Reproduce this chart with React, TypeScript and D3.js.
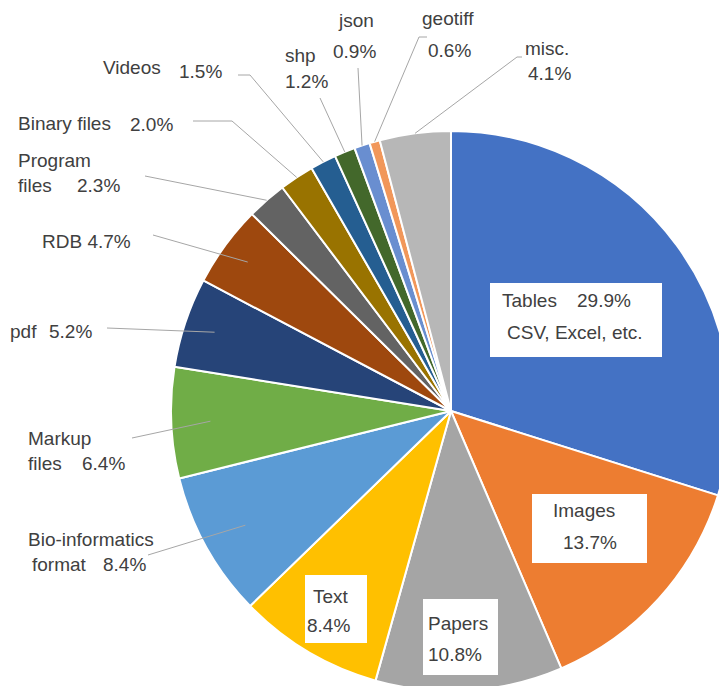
import React from "react";
import * as d3 from "d3";

// ---- data ----
const categories = [
  "Tables", "Images", "Papers", "Text", "Bio-informatics format", "Markup files",
  "pdf", "RDB", "Program files", "Binary files", "Videos", "shp", "json", "geotiff", "misc.",
];
const shares = [29.9, 13.7, 10.8, 8.4, 8.4, 6.4, 5.2, 4.7, 2.3, 2.0, 1.5, 1.2, 0.9, 0.6, 4.1];
const sliceColors = [
  "#4472C4", "#ED7D31", "#A5A5A5", "#FFC000", "#5B9BD5", "#70AD47",
  "#264478", "#9E480E", "#636363", "#997300", "#255E91", "#43682B", "#698ED0", "#F1975A", "#B7B7B7",
];
// text pieces of each label ("{v}" = the share)
const labelTexts: string[][] = [
  ["Tables", "{v}", "CSV, Excel, etc."],
  ["Images", "{v}"],
  ["Papers", "{v}"],
  ["Text", "{v}"],
  ["Bio-informatics", "format", "{v}"],
  ["Markup", "files", "{v}"],
  ["pdf", "{v}"],
  ["RDB {v}"],
  ["Program", "files", "{v}"],
  ["Binary files", "{v}"],
  ["Videos", "{v}"],
  ["shp", "{v}"],
  ["json", "{v}"],
  ["geotiff", "{v}"],
  ["misc.", "{v}"],
];

// ---- layout (positions only) ----
const W = 719, H = 686;
const CX = 451, CY = 411, R = 280;
type Layout = {
  pos: [number, number][];
  box?: [number, number, number, number];
  from?: [number, number];
  elbow?: [number, number];
  k?: number;
};
const layouts: Layout[] = [
  { pos: [[502, 307], [577, 307], [507, 339]], box: [490, 283, 172, 74] },
  { pos: [[553, 517], [563, 549]], box: [532, 494, 115, 69] },
  { pos: [[428, 630], [428, 661]], box: [423, 599, 75, 76] },
  { pos: [[313, 603], [307, 632]], box: [305, 575, 62, 68] },
  { pos: [[28, 546], [32, 571], [103, 571]], from: [148, 555], k: 0.84 },
  { pos: [[28, 445], [28, 470], [82, 470]], from: [132, 438], k: 0.86 },
  { pos: [[10, 338], [49, 338]], from: [107, 328], k: 0.89 },
  { pos: [[42, 248]], from: [153, 235], k: 0.9 },
  { pos: [[18, 167], [18, 192], [77, 192]], from: [145, 176], k: 1 },
  { pos: [[18, 130], [130, 131]], from: [193, 121], elbow: [232, 121], k: 1 },
  { pos: [[103, 74], [179, 78]], from: [238, 75], elbow: [250, 75], k: 1 },
  { pos: [[285, 62], [285, 88]], from: [320, 98], k: 1 },
  { pos: [[339, 27], [333, 58]], from: [358, 68], k: 1 },
  { pos: [[422, 25], [428, 57]], from: [427, 37], elbow: [419, 37], k: 1 },
  { pos: [[525, 55], [528, 80]], from: [522, 57], elbow: [517, 57], k: 1 },
];

const rows = categories.map((c, i) => ({ name: c, value: shares[i], i }));

export default function App() {
  const pie = d3.pie<any>().sort(null).value((d) => d.value).startAngle(0).endAngle(2 * Math.PI);
  const arcs = pie(rows);
  const arc = d3.arc<any>().innerRadius(0).outerRadius(R);
  const font = "'Liberation Sans', Arial, sans-serif";

  return (
    <svg
      width={W}
      height={H}
      viewBox={`0 0 ${W} ${H}`}
      style={{ position: "absolute", left: 0, top: 0, background: "#fff" }}
    >
      <rect x={0} y={0} width={W} height={H} fill="#fff" />
      <g transform={`translate(${CX},${CY})`}>
        {arcs.map((a, i) => (
          <path key={i} d={arc(a) as string} fill={sliceColors[i]} stroke="#fff" strokeWidth={2} strokeLinejoin="round" />
        ))}
      </g>
      {arcs.map((a, i) => {
        const L = layouts[i];
        if (!L.from) return null;
        const mid = (a.startAngle + a.endAngle) / 2;
        const rr = R * (L.k ?? 1);
        const ex = CX + rr * Math.sin(mid);
        const ey = CY - rr * Math.cos(mid);
        const pts: [number, number][] = [L.from];
        if (L.elbow) pts.push(L.elbow);
        pts.push([ex, ey]);
        return (
          <path key={"l" + i} d={d3.line()(pts) as string} fill="none" stroke="#A6A6A6" strokeWidth={1} />
        );
      })}
      {rows.map((r, i) => {
        const L = layouts[i];
        const v = `${r.value.toFixed(1)}%`;
        return (
          <g key={"t" + i}>
            {L.box && (
              <rect x={L.box[0]} y={L.box[1]} width={L.box[2]} height={L.box[3]} fill="#fff" />
            )}
            {labelTexts[i].map((s, j) => (
              <text
                key={j}
                x={L.pos[j][0]}
                y={L.pos[j][1]}
                fontFamily={font}
                fontSize={19}
                fill="#404040"
              >
                {s.replace("{v}", v)}
              </text>
            ))}
          </g>
        );
      })}
    </svg>
  );
}
